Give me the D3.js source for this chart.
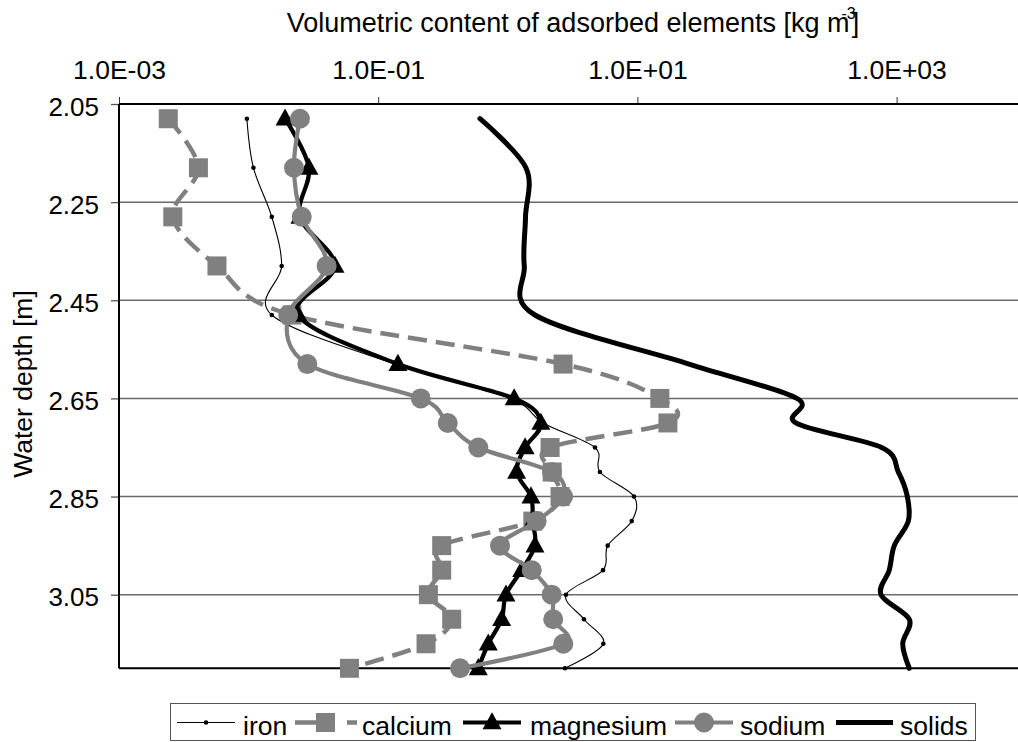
<!DOCTYPE html>
<html>
<head>
<meta charset="utf-8">
<script src="https://cdn.jsdelivr.net/npm/d3@7"></script>
<style>
  html, body { margin: 0; padding: 0; background: #fff; }
  svg { display: block; font-family: "Liberation Sans", Arial, sans-serif; }
</style>
</head>
<body>
<svg id="chart" width="1018" height="742"></svg>
<script>
// ---- data ----
const depths    = [2.08, 2.18, 2.28, 2.38, 2.48, 2.58, 2.65, 2.70, 2.75, 2.80, 2.85, 2.90, 2.95, 3.00, 3.05, 3.10, 3.15, 3.20];
const iron      = [0.0097, 0.0109, 0.0151, 0.0180, 0.0151, 0.135, 1.04, 1.87, 4.71, 5.14, 9.41, 9.04, 5.90, 5.43, 2.81, 3.87, 5.46, 2.76];
const calcium   = [0.0024, 0.0041, 0.0026, 0.0057, 0.0216, 2.67, 14.9, 17.2, 2.12, 2.20, 2.53, 1.56, 0.309, 0.309, 0.244, 0.369, 0.234, 0.060];
const magnesium = [0.0191, 0.0292, 0.0249, 0.0464, 0.0241, 0.142, 1.12, 1.80, 1.36, 1.17, 1.51, 1.56, 1.62, 1.28, 0.968, 0.897, 0.707, 0.592];
const sodium    = [0.0249, 0.0224, 0.0257, 0.0400, 0.0202, 0.0284, 0.213, 0.344, 0.592, 2.19, 2.67, 1.67, 0.871, 1.53, 2.18, 2.24, 2.68, 0.428];
const solids    = [0.610, 1.38, 1.37, 1.34, 1.62, 25.0, 170, 167, 767, 1031, 1210, 1231, 960, 878, 758, 1253, 1115, 1253];

const seriesNames = ["iron", "calcium", "magnesium", "sodium", "solids"];
const xTickValues = [1e-3, 1e-1, 1e1, 1e3];
const xTickLabels = ["1.0E-03", "1.0E-01", "1.0E+01", "1.0E+03"];
const yTickValues = [2.05, 2.25, 2.45, 2.65, 2.85, 3.05];
const yTickLabels = ["2.05", "2.25", "2.45", "2.65", "2.85", "3.05"];
const xDomain = [1e-3, 1e4];
const yDomain = [2.05, 3.20];
const titleMain = "Volumetric content of adsorbed elements [kg m";
const titleSup = "-3";
const titleEnd = "]";
const yTitle = "Water depth [m]";

(function () {
// ---- layout ----
const pL = 119, pT = 104, pR = 1026.2, pB = 668.3;
const svg = d3.select("#chart");
svg.append("rect").attr("width", 1018).attr("height", 742).attr("fill", "#fff");

const x = d3.scaleLog().domain(xDomain).range([pL, pR]);
const y = d3.scaleLinear().domain(yDomain).range([pT, pB]);

const GREY = "#808080";
const FONT = "Liberation Sans, Arial, sans-serif";

// gridlines
svg.append("g").selectAll("line")
  .data(yTickValues.slice(1))
  .join("line")
  .attr("x1", pL).attr("x2", pR)
  .attr("y1", d => y(d)).attr("y2", d => y(d))
  .attr("stroke", "#6a6a6a").attr("stroke-width", 1.5);

// y axis
const yAxis = d3.axisLeft(y).tickValues(yTickValues)
  .tickFormat((d, i) => yTickLabels[i]).tickSize(8).tickPadding(12);
const gy = svg.append("g").attr("transform", `translate(${pL},0)`).call(yAxis);
gy.select(".domain").remove();
gy.selectAll(".tick line").attr("stroke", "#555").attr("stroke-width", 1.3);
gy.selectAll(".tick text").attr("font-size", 26).attr("font-family", FONT)
  .attr("fill", "#000").attr("dy", 11);
svg.append("line").attr("x1", pL).attr("x2", pL).attr("y1", pT).attr("y2", pB)
  .attr("stroke", "#000").attr("stroke-width", 2);

// bottom boundary
svg.append("line").attr("x1", pL).attr("x2", pR).attr("y1", pB).attr("y2", pB)
  .attr("stroke", "#000").attr("stroke-width", 2);

// x axis (top)
const xAxis = d3.axisTop(x).tickValues(xTickValues)
  .tickFormat((d, i) => xTickLabels[i]).tickSize(7).tickPadding(18);
const gx = svg.append("g").attr("transform", `translate(0,${pT})`).call(xAxis);
gx.select(".domain").remove();
gx.selectAll(".tick line").attr("stroke", "#333").attr("stroke-width", 1);
gx.selectAll(".tick text").attr("font-size", 26.5).attr("font-family", FONT)
  .attr("fill", "#000");
svg.append("line").attr("x1", pL).attr("x2", pR).attr("y1", pT).attr("y2", pT)
  .attr("stroke", "#000").attr("stroke-width", 2.2);

// titles
const t = svg.append("text").attr("x", 573).attr("y", 32).attr("text-anchor", "middle")
  .attr("font-size", 27).attr("font-family", FONT).attr("fill", "#000");
t.append("tspan").text(titleMain);
t.append("tspan").attr("dx", -8).attr("dy", -13).attr("font-size", 16).text(titleSup);
t.append("tspan").attr("dx", -4).attr("dy", 13).text(titleEnd);

svg.append("text").attr("transform", "translate(32,384) rotate(-90)")
  .attr("text-anchor", "middle").attr("font-size", 26.5).attr("font-family", FONT)
  .attr("fill", "#000").text(yTitle);

// ---- series ----
const curve = d3.curveCardinal.tension(0);
const mkData = vals => vals.map((v, i) => ({ v, d: depths[i] }));
const line = d3.line().x(p => x(p.v)).y(p => y(p.d)).curve(curve);

function trianglePath(cx, cy, s) {
  const h = s * 0.9;
  return `M${cx},${cy - h * 0.6}L${cx + s / 2},${cy + h * 0.4}L${cx - s / 2},${cy + h * 0.4}Z`;
}

const plot = svg.append("g");

// iron
plot.append("path").datum(mkData(iron)).attr("d", line)
  .attr("fill", "none").attr("stroke", "#000").attr("stroke-width", 1.1);
plot.append("g").selectAll("circle").data(mkData(iron)).join("circle")
  .attr("cx", p => x(p.v)).attr("cy", p => y(p.d)).attr("r", 2.3).attr("fill", "#000");

// calcium
plot.append("path").datum(mkData(calcium)).attr("d", line)
  .attr("fill", "none").attr("stroke", GREY).attr("stroke-width", 4.5)
  .attr("stroke-dasharray", "19,9");
plot.append("g").selectAll("rect").data(mkData(calcium)).join("rect")
  .attr("x", p => x(p.v) - 9.5).attr("y", p => y(p.d) - 9.5)
  .attr("width", 19).attr("height", 19).attr("fill", GREY);

// magnesium
plot.append("path").datum(mkData(magnesium)).attr("d", line)
  .attr("fill", "none").attr("stroke", "#000").attr("stroke-width", 4.2).attr("stroke-linejoin", "round");
plot.append("g").selectAll("path").data(mkData(magnesium)).join("path")
  .attr("d", p => trianglePath(x(p.v), y(p.d), 19)).attr("fill", "#000");

// sodium
plot.append("path").datum(mkData(sodium)).attr("d", line)
  .attr("fill", "none").attr("stroke", GREY).attr("stroke-width", 4.2).attr("stroke-linejoin", "round");
plot.append("g").selectAll("circle").data(mkData(sodium)).join("circle")
  .attr("cx", p => x(p.v)).attr("cy", p => y(p.d)).attr("r", 10).attr("fill", GREY);

// solids
plot.append("path").datum(mkData(solids)).attr("d", line)
  .attr("fill", "none").attr("stroke", "#000").attr("stroke-width", 5)
  .attr("stroke-linecap", "round").attr("stroke-linejoin", "round");

// ---- legend ----
const lg = svg.append("g");
lg.append("rect").attr("x", 170.5).attr("y", 703.5).attr("width", 805).attr("height", 37)
  .attr("fill", "#fff").attr("stroke", "#555").attr("stroke-width", 1);
const ly = 722.5, lty = 735;
const legendX = [[177, 235, 243], [295, 357, 362], [463, 521, 530], [675, 733, 740], [836, 893, 900]];
seriesNames.forEach((name, i) => {
  const [a, b, tx] = legendX[i];
  const m = (a + b) / 2;
  const ln = lg.append("line").attr("x1", a).attr("x2", b).attr("y1", ly).attr("y2", ly);
  if (name === "iron") {
    ln.attr("stroke", "#000").attr("stroke-width", 1.1);
    lg.append("circle").attr("cx", m).attr("cy", ly).attr("r", 2.3).attr("fill", "#000");
  } else if (name === "calcium") {
    ln.attr("stroke", GREY).attr("stroke-width", 4.5).attr("stroke-dasharray", "36,16");
    lg.append("rect").attr("x", m - 10).attr("y", ly - 9.5).attr("width", 19).attr("height", 19).attr("fill", GREY);
  } else if (name === "magnesium") {
    ln.attr("stroke", "#000").attr("stroke-width", 4.2);
    lg.append("path").attr("d", trianglePath(m, ly, 19)).attr("fill", "#000");
  } else if (name === "sodium") {
    ln.attr("stroke", GREY).attr("stroke-width", 4.2);
    lg.append("circle").attr("cx", m).attr("cy", ly).attr("r", 10).attr("fill", GREY);
  } else {
    ln.attr("stroke", "#000").attr("stroke-width", 5);
  }
  lg.append("text").attr("x", tx).attr("y", lty).attr("font-size", 26.5).attr("font-family", FONT)
    .attr("fill", "#000").text(name);
});
})();
</script>
</body>
</html>
